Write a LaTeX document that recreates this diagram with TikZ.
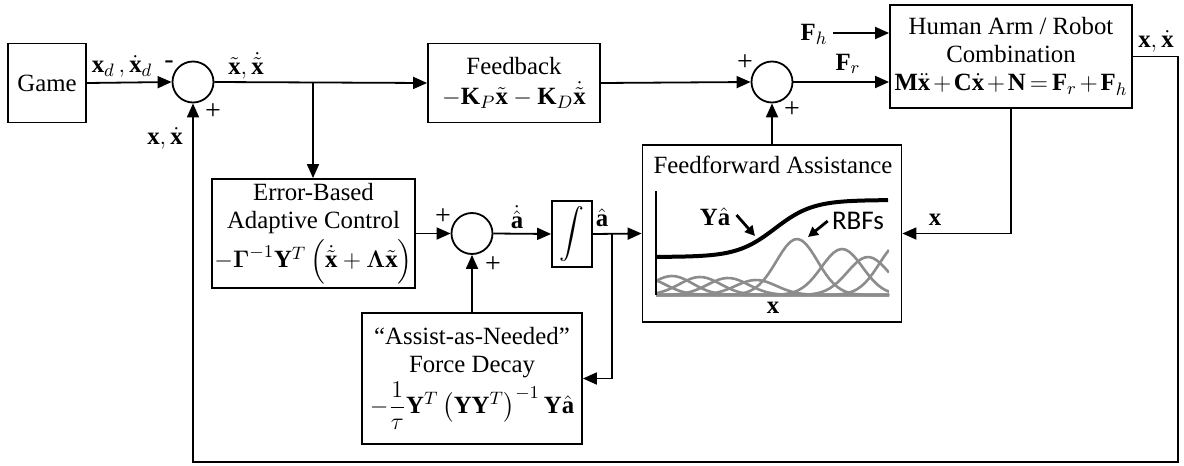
\documentclass[tikz,border=0pt]{standalone}
\usepackage{amsmath,amssymb}
\usepackage{fontspec}
\setmainfont{Liberation Serif}
\newfontfamily\rbffont{Carlito}
\usetikzlibrary{arrows.meta,positioning,calc}
\newcommand{\bx}{\mathbf{x}}
\tikzset{
  blk/.style={draw, line width=0.9pt, align=center, inner sep=0pt},
  sumj/.style={circle, draw, line width=0.9pt, minimum size=20.5pt, inner sep=0pt},
  sigarr/.style={-{Triangle[length=7pt,width=6pt]}, line width=0.9pt},
  sgn/.style={inner sep=0pt, font=\fontsize{14}{14}\selectfont},
  lbl/.style={inner sep=0pt},
  rbfcurve/.style={black!45, line width=1.3pt},
  callout/.style={-{Triangle[length=5pt,width=5pt]}, line width=1.4pt},
}

\begin{document}
\begin{tikzpicture}[x=0.5pt, y=-0.5pt, font=\fontsize{12.4}{14}\selectfont]
  \useasboundingbox (0,0) rectangle (1184,466);
  % blocks
  \node[blk, minimum width=39pt, minimum height=39.5pt] (game) at (47,83) {Game};
  \node[sumj] (sum1) at (193,82) {};
  \node[blk, minimum width=86pt, minimum height=39.5pt] (fb) at (514,83)
       {Feedback\\[1pt] $-\mathbf{K}_P\tilde{\bx}-\mathbf{K}_D\dot{\tilde{\bx}}$};
  \node[sumj] (sum2) at (772,82) {};
  \node[blk, minimum width=121pt, minimum height=51.5pt] (arm) at (1011,56.5)
       {Human Arm / Robot\\Combination\\ \medmuskip=2mu\thickmuskip=3mu
        $\mathbf{M}\ddot{\bx}+\mathbf{C}\dot{\bx}+\mathbf{N}=\mathbf{F}_r+\mathbf{F}_h$};
  \node[blk, minimum width=101.5pt, minimum height=54.5pt] (ebac) at (313.5,233.5)
       {Error-Based\\Adaptive Control\\[2pt] $-\boldsymbol{\Gamma}^{-1}\mathbf{Y}^T\left(\dot{\tilde{\bx}}+\boldsymbol{\Lambda}\tilde{\bx}\right)$};
  \node[sumj] (sum3) at (472,233.5) {};
  \node[blk, minimum width=20pt, minimum height=33pt] (integ) at (572,234) {$\displaystyle\int$};
  \node[blk, minimum width=129.5pt, minimum height=88.5pt] (ff) at (772,233.5) {};
  \node[blk, minimum width=110pt, minimum height=65.5pt] (aan) at (472,378.5)
       {``Assist-as-Needed''\\Force Decay\\[1pt] $-\dfrac{1}{\tau}\mathbf{Y}^T\left(\mathbf{Y}\mathbf{Y}^T\right)^{-1}\mathbf{Y}\hat{\mathbf{a}}$};
  % feedforward plot
  \node[lbl] (fftitle) at (773,165) {Feedforward Assistance};
  \begin{scope}
    \clip (656,188) rectangle (889,296);
    \foreach \c/\h in {645/17, 672/19, 700/18, 728/17, 756/15, 797/56, 842/46, 868/38, 900/52}{
      \draw[rbfcurve] plot[domain=656:889, samples=60] (\x,{295-\h*exp(-((\x-\c)/29)^2)});
    }
  \end{scope}
  \draw[rbfcurve] (656,295) -- (888,295);
  \draw[line width=0.9pt] (656,191) -- (656,295);
  \draw[line width=2pt] plot[domain=656:888, samples=80] (\x,{257-57/(1+exp(-(\x-775)/19))});
  \node[lbl] (xaxis) at (773,308) {$\bx$};
  \node[lbl] (yahat) at (715,217) {$\mathbf{Y}\hat{\mathbf{a}}$};
  \node[lbl, font=\rbffont\fontsize{13.5}{14}\selectfont] (rbfs) at (858,221) {RBFs};
  \coordinate (ytip) at (755,236);
  \coordinate (rtip) at (808,237);
  \draw[callout] (yahat.east) ++(3pt,1pt) -- (ytip);
  \draw[callout] (rbfs.west) ++(-2pt,0pt) -- (rtip);
  % signals
  \draw[sigarr] (game.east) -- (sum1.west);
  \node[lbl] (lxd) at (122,66) {$\bx_d\,,\dot{\bx}_d$};
  \node[sgn] (m1) at (169,65) {-};
  \node[sgn] (p1) at (213,112) {+};
  \draw[sigarr] (sum1.east) -- (fb.west);
  \node[lbl] (lxt) at (246,66) {$\tilde{\bx},\dot{\tilde{\bx}}$};
  \coordinate (br1) at (313,82);
  \draw[sigarr] (br1) -- (br1 |- ebac.north);
  \draw[sigarr] (fb.east) -- (sum2.west);
  \node[sgn] (p2) at (745,63) {+};
  \node[sgn] (p3) at (792,110) {+};
  \draw[sigarr] (ff.north) -- (sum2.south);
  \draw[sigarr] (sum2.east) -- (sum2.east -| arm.west);
  \node[lbl] (lfr) at (848,64) {$\mathbf{F}_r$};
  \coordinate (fhin) at (833,33);
  \draw[sigarr] (fhin) -- (fhin -| arm.west);
  \node[lbl] (lfh) at (814,34) {$\mathbf{F}_h$};
  \draw[sigarr] (ebac.east) -- (sum3.west);
  \node[sgn] (p4) at (443,217) {+};
  \node[sgn] (p5) at (493,265) {+};
  \draw[sigarr] (sum3.east) -- (integ.west);
  \node[lbl] (ladot) at (517,217) {$\dot{\hat{\mathbf{a}}}$};
  \draw[sigarr] (integ.east) -- (ff.west);
  \node[lbl] (lahat) at (602,218) {$\hat{\mathbf{a}}$};
  \coordinate (br2) at (612,234);
  \draw[sigarr] (br2) |- (aan.east);
  \draw[sigarr] (aan.north) -- (sum3.south);
  \draw[sigarr] (arm.south) |- (ff.east);
  \node[lbl] (lx) at (935,220) {$\bx$};
  % outer loop
  \coordinate (oc) at (1178,462);
  \draw[sigarr] (arm.east) -| (oc) -| (sum1.south);
  \node[lbl] (lxo) at (1156,41) {$\bx,\dot{\bx}$};
  \node[lbl] (lxi) at (165,138) {$\bx,\dot{\bx}$};
\end{tikzpicture}
\end{document}
